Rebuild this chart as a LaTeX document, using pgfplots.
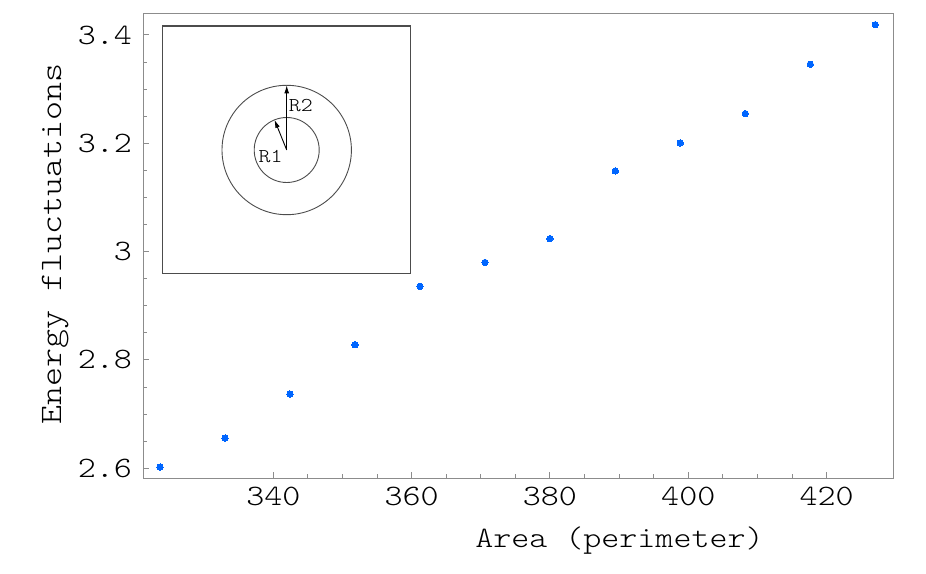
\documentclass[border=0pt]{standalone}
\usepackage{fontspec}
\setmainfont{lmmonolt10-regular.otf}[FakeStretch=1.16]
\usepackage{pgfplots}
\pgfplotsset{compat=1.18}
\usetikzlibrary{arrows.meta}
\definecolor{ptblue}{rgb}{0,0.4,1}
\definecolor{framegray}{gray}{0.55}
\definecolor{insetgray}{gray}{0.3}

\begin{document}
\begin{tikzpicture}[font=\fontsize{14.8}{18}\selectfont]
\useasboundingbox (0,0) rectangle (463pt,286.5pt);
\begin{axis}[at={(71.5pt,47.5pt)},anchor=south west,scale only axis,
  width=375pt,height=232.5pt,
  xmin=321.16,xmax=429.6,ymin=2.582,ymax=3.4406,
  xtick={340,360,380,400,420},ytick={2.6,2.8,3,3.2,3.4},
  minor x tick num=3,minor y tick num=3,
  tick align=inside,xtick pos=left,ytick pos=left,
  major tick length=3pt,minor tick length=2pt,
  axis line style={framegray,line width=0.5pt},
  every tick/.style={framegray,line width=0.5pt},
  /pgf/number format/assume math mode=true,
  yticklabel style={xshift=-2pt},
  xticklabel style={yshift=-1pt},
  xlabel={Area (perimeter)},ylabel={Energy fluctuations},
  xlabel style={at={(axis description cs:0.837,-0.1505)},anchor=base east},
  ylabel style={at={(axis description cs:-0.1093,0.503)},anchor=base,
    font=\fontsize{15.6}{18}\selectfont},
  clip=false]
\addplot[only marks,mark=*,mark size=1.6pt,mark options={fill=ptblue,draw=ptblue,line width=0pt}]
  coordinates {(323.62,2.602) (333.02,2.6555) (342.41,2.737) (351.81,2.828)
  (361.21,2.936) (370.61,2.980) (380.00,3.024) (389.45,3.149)
  (398.84,3.2007) (408.24,3.2548) (417.64,3.346) (427.03,3.419)};
\end{axis}
% inset sketch of the annulus
\draw[insetgray,line width=0.6pt] (81.35pt,149.65pt) rectangle (205.15pt,273.5pt);
\draw[insetgray,line width=0.45pt] (143.35pt,211.5pt) circle (32.35pt);
\draw[insetgray,line width=0.45pt] (143.35pt,211.5pt) circle (16.25pt);
\draw[black,line width=0.45pt,-{Latex[length=4pt,width=2.4pt]}] (143.35pt,211.5pt) -- ++(90:32.35pt);
\draw[black,line width=0.45pt,-{Latex[length=4pt,width=2.4pt]}] (143.35pt,211.5pt) -- ++(112:16.25pt);
\node[font=\fontsize{9.8}{11}\selectfont,inner sep=0pt] at (150.4pt,233.6pt) {R2};
\node[font=\fontsize{9.8}{11}\selectfont,inner sep=0pt] at (135.25pt,208.35pt) {R1};
\end{tikzpicture}
\end{document}
